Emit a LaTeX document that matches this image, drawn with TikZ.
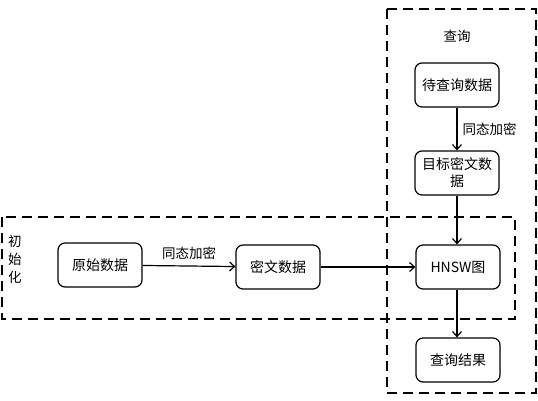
\documentclass[tikz,border=0pt]{standalone}
\usepackage{fontspec}
\setmainfont{Noto Sans CJK SC}
\usetikzlibrary{arrows.meta}
\tikzset{
  box/.style={draw, line width=1.2pt, rounded corners=7pt, minimum width=84pt, minimum height=44pt, align=center, font=\fontsize{14}{17}\selectfont, inner sep=2pt},
  frame/.style={draw, line width=1.6pt, dash pattern=on 10pt off 6pt},
  conn/.style={line width=1.2pt, -{Straight Barb[length=5pt,width=9pt]}},
  lbl/.style={font=\fontsize{13.5}{16}\selectfont, inner sep=0pt}
}
\begin{document}
\begin{tikzpicture}[x=1pt,y=-1pt]
\useasboundingbox (0,0) rectangle (538,400);
\draw[frame] (387,9) rectangle (536,393);
\draw[frame] (2,217) rectangle (515,319);
\node[lbl] (qlab) at (457,36) {查询};
\node[lbl, align=center] (ilab) at (15,259) {初\\[2pt]始\\[2pt]化};
\node[box] (q) at (457,85) {待查询数据};
\node[box] (t) at (457,173) {目标密文数\\据};
\node[box] (o) at (100,265) {原始数据};
\node[box] (c) at (278,267) {密文数据};
\node[box] (h) at (458,267) {HNSW图};
\node[box] (r) at (458,360) {查询结果};
\draw[conn] (q) -- (t) node[midway, right=5pt, lbl] (e1) {同态加密};
\draw[conn] (t) -- (t |- h.north);
\draw[conn] (o) -- (c) node[midway, above=6pt, lbl] (e2) {同态加密};
\draw[conn] (c) -- (h);
\draw[conn] (h.south -| t) -- (r.north -| t);
\end{tikzpicture}
\end{document}
